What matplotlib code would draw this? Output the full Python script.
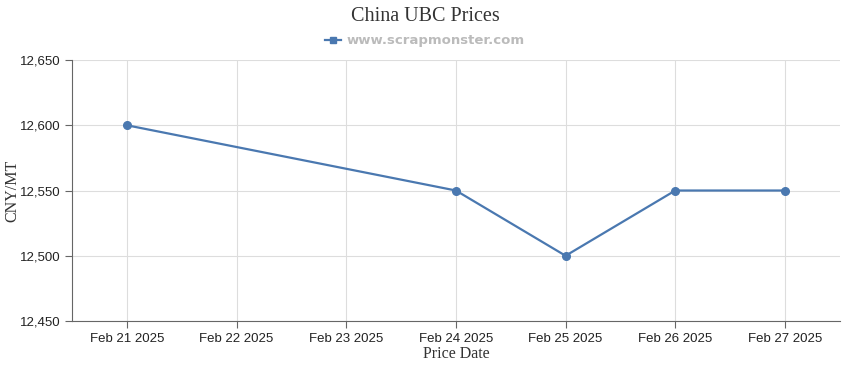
import matplotlib
matplotlib.use("Agg")
import matplotlib.pyplot as plt
import matplotlib.dates as mdates
import pandas as pd

# chart data
dates = ["2025-02-21", "2025-02-24", "2025-02-25", "2025-02-26", "2025-02-27"]
prices = [12600, 12550, 12500, 12550, 12550]
tick_dates = ["2025-02-21", "2025-02-22", "2025-02-23", "2025-02-24",
              "2025-02-25", "2025-02-26", "2025-02-27"]
y_ticks = [12450, 12500, 12550, 12600, 12650]
series_name = "www.scrapmonster.com"

x = pd.to_datetime(dates)
xt = pd.to_datetime(tick_dates)

line_color = "#4a78b0"
fig = plt.figure(figsize=(8.5, 3.7), dpi=100)
ax = fig.add_axes([0.0847, 0.1324, 0.9033, 0.7054])

ax.plot(x, prices, color=line_color, lw=1.6, marker="o", ms=5.5, label=series_name)

ax.set_xticks(xt)
ax.xaxis.set_major_formatter(mdates.DateFormatter("%b %d %Y"))
ax.set_xlim(xt[0] - pd.Timedelta(hours=12), xt[-1] + pd.Timedelta(hours=12))
ax.set_yticks(y_ticks)
ax.set_ylim(12450, 12650)
ax.yaxis.set_major_formatter(matplotlib.ticker.FuncFormatter(lambda v, p: f"{v:,.0f}"))

ax.grid(True, color="#dddddd", lw=0.8)
ax.set_axisbelow(True)
for s in ["top", "right"]:
    ax.spines[s].set_visible(False)
ax.spines["left"].set_color("#666666")
ax.spines["bottom"].set_color("#666666")
ax.tick_params(axis="both", colors="#666666", length=5, labelcolor="#222222")
for lab in ax.get_xticklabels() + ax.get_yticklabels():
    lab.set_family("Liberation Sans")
    lab.set_fontsize(9.5)

serif = "Liberation Serif"
ax.set_xlabel("Price Date", family=serif, fontsize=11.5, color="#333333", labelpad=1)
ax.set_ylabel("CNY/MT", family=serif, fontsize=11.5, color="#333333")
ax.yaxis.set_label_coords(-0.067, 0.5)
fig.text(0.5, 0.955, "China UBC Prices", ha="center", va="center",
         family=serif, fontsize=14.5, color="#333333")

leg = fig.legend(loc="center", bbox_to_anchor=(0.5, 0.89), frameon=False,
                 handlelength=1.2, handletextpad=0.4,
                 prop={"weight": "bold", "size": 9.5})
for h in leg.legend_handles:
    h.set_marker("s")
    h.set_markersize(4)
for t in leg.get_texts():
    t.set_color("#bbbbbb")

fig.savefig("out.png", dpi=100)
